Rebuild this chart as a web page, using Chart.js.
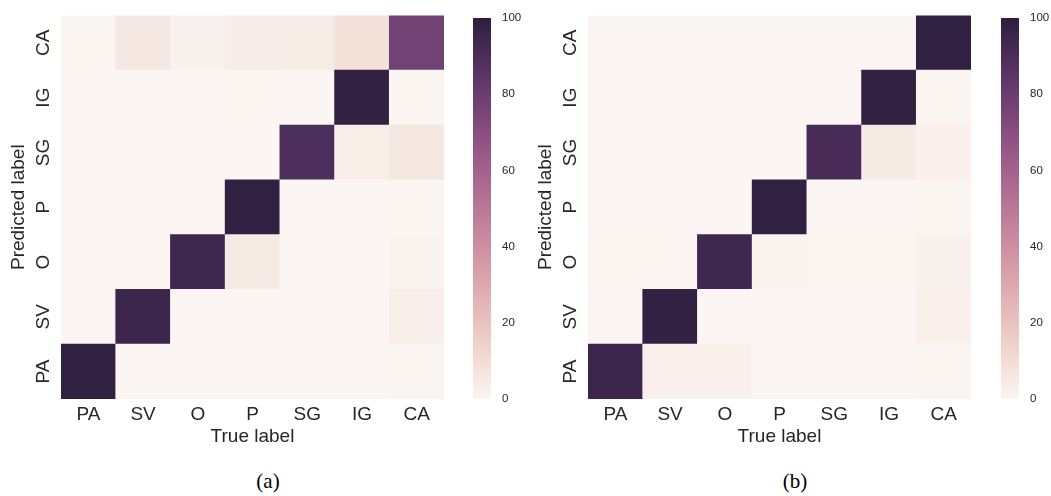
<!DOCTYPE html>
<html>
<head>
<meta charset="utf-8">
<script src="https://cdn.jsdelivr.net/npm/chart.js@4.4.1/dist/chart.umd.min.js"></script>
<style>
  body { margin: 0; background: #fff; width: 1051px; height: 496px; position: relative; overflow: hidden; }
  canvas { position: absolute; top: 0; }
  .cap { position: absolute; top: 469px; width: 80px; margin-left: -40px; text-align: center;
         font-family: "Liberation Serif", "Times New Roman", serif; font-size: 21px; line-height: 24px; color: #000; }
</style>
</head>
<body>
<canvas id="heatA" width="460" height="460" style="left:0"></canvas>
<canvas id="barA" width="80" height="460" style="left:466px"></canvas>
<canvas id="heatB" width="460" height="460" style="left:527px"></canvas>
<canvas id="barB" width="80" height="460" style="left:994px"></canvas>
<div class="cap" style="left:268px">(a)</div>
<div class="cap" style="left:795px">(b)</div>
<script>
// true label on x, predicted label on y (bottom to top)
var trueLabels = ['PA', 'SV', 'O', 'P', 'SG', 'IG', 'CA'];
var predLabels = ['PA', 'SV', 'O', 'P', 'SG', 'IG', 'CA'];
var cbarTicks = [0, 20, 40, 60, 80, 100];

// percentages, rows written top (CA) to bottom (PA), columns follow trueLabels
var matrixA = [
    [0.5, 6, 2, 4, 4.5, 8.5, 77],
    [0, 0, 0, 0.5, 0, 98, 0.5],
    [0, 0, 0, 0, 90, 3.5, 6],
    [0, 0, 0, 99, 0, 0, 0.5],
    [0, 0, 94, 5, 0, 0, 1],
    [0, 95, 0, 0, 0, 0, 3],
    [99, 0, 0, 0, 0, 0, 0.5]
];
var matrixB = [
    [0, 0, 0, 0, 0, 0, 99],
    [0, 0, 0, 0, 0, 98, 0.5],
    [0, 0, 0, 0, 91, 5, 2.5],
    [0, 0, 0, 99, 0, 0, 0.5],
    [0.5, 0.5, 94, 1.5, 0.5, 0.5, 2],
    [0, 98, 0, 0, 0, 0, 2.5],
    [95, 2.5, 2.5, 0, 0, 0, 0.5]
];

var vmin = 0, vmax = 100;
var textColor = '#262626';
var labelFont = { family: '"Liberation Sans", Arial, sans-serif', size: 19 };
var cbarFont = { family: '"Liberation Sans", Arial, sans-serif', size: 11.5 };

//cubehelix palette, light end to dark end
var light = 0.97, dark = 0.15;
function cubehelix(x) {
    var hue = 0.8, rot = 0.4, start = 0;
    var a = hue * x * (1 - x) / 2;
    var phi = 2 * Math.PI * (start / 3 + rot * x);
    var c = Math.cos(phi), s = Math.sin(phi);
    var ch = [x + a * (-0.14861 * c + 1.78277 * s),
              x + a * (-0.29227 * c - 0.90649 * s),
              x + a * (1.97294 * c)];
    return ch.map(function(v) { return Math.round(255 * Math.min(1, Math.max(0, v))); });
}
function colorFor(v) {
    var t = Math.min(1, Math.max(0, (v - vmin) / (vmax - vmin)));
    var rgb = cubehelix(light - (light - dark) * t);
    return 'rgb(' + rgb.join(',') + ')';
}

function heatmap(id, matrix) {
    var rows = matrix.slice().reverse();
    var datasets = rows.map(function(row, i) {
        return {
            label: predLabels[i],
            data: row.map(function() { return 1; }),
            backgroundColor: row.map(colorFor),
            borderWidth: 0,
            barPercentage: 1,
            categoryPercentage: 1
        };
    });
    return new Chart(document.getElementById(id), {
        type: 'bar',
        data: { labels: trueLabels, datasets: datasets },
        options: {
            responsive: false,
            animation: false,
            events: [],
            layout: { padding: { top: 15, right: 16, left: 0, bottom: 0 } },
            plugins: { legend: { display: false }, tooltip: { enabled: false } },
            scales: {
                x: {
                    stacked: true,
                    grid: { display: false, drawTicks: false },
                    border: { display: false },
                    ticks: { font: labelFont, color: textColor, padding: 4, maxRotation: 0, autoSkip: false },
                    title: { display: true, text: 'True label', font: labelFont, color: textColor, padding: { top: 0, bottom: 12 } },
                    afterFit: function(s) { s.height = 61; }
                },
                y: {
                    stacked: true,
                    min: 0,
                    max: predLabels.length,
                    grid: { display: false, drawTicks: false },
                    border: { display: false },
                    afterBuildTicks: function(s) {
                        s.ticks = predLabels.map(function(l, i) { return { value: i + 0.5 }; });
                    },
                    ticks: {
                        callback: function(v) { return predLabels[Math.floor(v)]; },
                        font: labelFont, color: textColor, padding: 4,
                        minRotation: 90, maxRotation: 90, crossAlign: 'center', autoSkip: false
                    },
                    title: { display: true, text: 'Predicted label', font: labelFont, color: textColor, padding: { top: 7, bottom: 0 } },
                    afterFit: function(s) { s.width = 61; }
                }
            }
        }
    });
}

function colorbar(id) {
    return new Chart(document.getElementById(id), {
        type: 'bar',
        data: {
            labels: [''],
            datasets: [{
                data: [vmax],
                backgroundColor: function(ctx) {
                    var area = ctx.chart.chartArea;
                    if (!area) return colorFor(50);
                    var g = ctx.chart.ctx.createLinearGradient(0, area.bottom, 0, area.top);
                    for (var i = 0; i <= 50; i++) {
                        g.addColorStop(i / 50, colorFor(vmin + (vmax - vmin) * i / 50));
                    }
                    return g;
                },
                borderWidth: 0,
                barPercentage: 1,
                categoryPercentage: 1
            }]
        },
        options: {
            responsive: false,
            animation: false,
            events: [],
            layout: { padding: { left: 7, top: 15, bottom: 61, right: 0 } },
            plugins: { legend: { display: false }, tooltip: { enabled: false } },
            scales: {
                x: { display: false },
                y: {
                    position: 'right',
                    min: vmin,
                    max: vmax,
                    grid: { display: false, drawTicks: false },
                    border: { display: false },
                    afterBuildTicks: function(s) {
                        s.ticks = cbarTicks.map(function(v) { return { value: v }; });
                    },
                    ticks: { font: cbarFont, color: textColor, padding: 11 },
                    afterFit: function(s) { s.width = 55; }
                }
            }
        }
    });
}

heatmap('heatA', matrixA);
colorbar('barA');
heatmap('heatB', matrixB);
colorbar('barB');
</script>
</body>
</html>
